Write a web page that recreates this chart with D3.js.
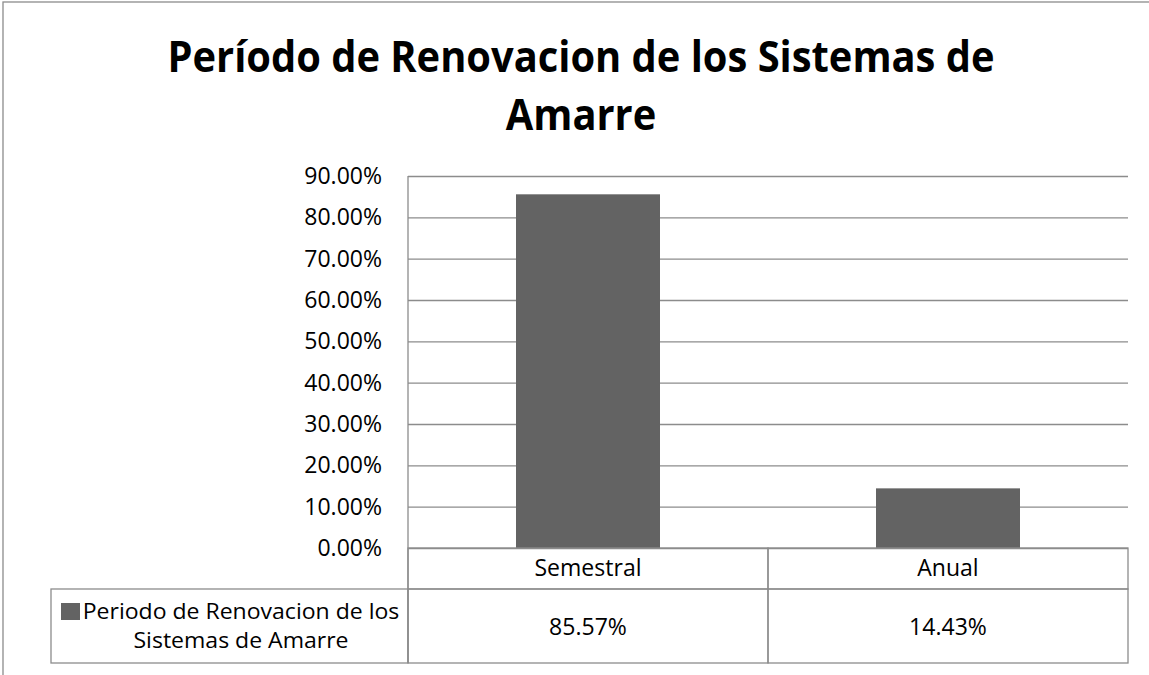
<!DOCTYPE html>
<meta charset="utf-8">
<style>
body { margin: 0; background: #fff; }
text { font-family: "Open Sans", "Noto Sans", sans-serif; fill: #000; }
.grid line { stroke: #8c8c8c; stroke-width: 1.3px; }
.cell { fill: none; stroke: #8c8c8c; stroke-width: 1.3px; }
</style>
<body>
<script src="https://cdnjs.cloudflare.com/ajax/libs/d3/7.8.5/d3.min.js"></script>
<script>
// data
var categories = ["Semestral", "Anual"];
var values = [85.57, 14.43];
var seriesName = ["Periodo de Renovacion de los", "Sistemas de Amarre"];
var ticks = [0, 10, 20, 30, 40, 50, 60, 70, 80, 90];
var titleLines = ["Período de Renovacion de los Sistemas de", "Amarre"];

var width = 1149, height = 675;
var plotLeft = 408, plotRight = 1128, plotTop = 176, plotBase = 548,
    rowCat = 589, rowVal = 663, legendLeft = 51;
var barColor = "#636363", lineColor = "#8c8c8c";

var svg = d3.select("body").append("svg")
    .attr("width", width)
    .attr("height", height);

// squeeze the glyphs a bit so the wide font looks like the narrow one in the picture
function squeeze(sel, k) {
  sel.each(function() {
    var w = this.getComputedTextLength();
    d3.select(this)
        .attr("textLength", w * k)
        .attr("lengthAdjust", "spacingAndGlyphs");
  });
}

// chart border (runs off the right and bottom of the picture)
svg.append("rect")
    .attr("x", 3).attr("y", 2)
    .attr("width", 1160).attr("height", 720)
    .attr("fill", "none")
    .attr("stroke", lineColor)
    .attr("stroke-width", 1.3);

// title
var title = svg.append("g");
titleLines.forEach(function(t, i) {
  title.append("text")
      .attr("x", 581)
      .attr("y", 72 + i * 58)
      .attr("text-anchor", "middle")
      .style("font-weight", "bold")
      .style("font-size", "43px")
      .text(t);
});
var kTitle = 827 / title.select("text").node().getComputedTextLength();
squeeze(title.selectAll("text"), kTitle);

var x = d3.scaleBand()
    .domain(categories)
    .range([plotLeft, plotRight])
    .paddingInner(0.6)
    .paddingOuter(0.3);

var y = d3.scaleLinear()
    .domain([0, 90])
    .range([plotBase, plotTop]);

var yAxis = d3.axisLeft(y)
    .tickValues(ticks)
    .tickSize(-(plotRight - plotLeft))
    .tickPadding(26)
    .tickFormat(function(d) { return d.toFixed(2) + "%"; });

var ga = svg.append("g")
    .attr("class", "grid")
    .attr("transform", "translate(" + plotLeft + ",0)")
    .call(yAxis);
ga.select(".domain").remove();
ga.selectAll("line").attr("stroke", lineColor);
ga.selectAll("text")
    .style("font-size", "23px")
    .style("font-family", "'Open Sans', sans-serif")
    .attr("fill", "#000");

// bars
svg.selectAll("rect.bar")
    .data(values)
  .enter().append("rect")
    .attr("class", "bar")
    .attr("x", function(d, i) { return x(categories[i]); })
    .attr("width", x.bandwidth())
    .attr("y", function(d) { return y(d); })
    .attr("height", function(d) { return plotBase - y(d); })
    .attr("fill", barColor);

// axis line + data table
svg.append("line")
    .attr("x1", plotLeft).attr("x2", plotLeft)
    .attr("y1", plotTop).attr("y2", rowVal)
    .attr("stroke", lineColor).attr("stroke-width", 1.3);

var step = x.step();
var labels = svg.append("g");
categories.forEach(function(c, i) {
  var x0 = plotLeft + i * step;
  svg.append("rect").attr("class", "cell")
      .attr("x", x0).attr("y", plotBase)
      .attr("width", step).attr("height", rowCat - plotBase);
  svg.append("rect").attr("class", "cell")
      .attr("x", x0).attr("y", rowCat)
      .attr("width", step).attr("height", rowVal - rowCat);
  labels.append("text")
      .attr("x", x0 + step / 2)
      .attr("y", 576)
      .attr("text-anchor", "middle")
      .style("font-size", "23px")
      .text(c);
  labels.append("text")
      .attr("x", x0 + step / 2)
      .attr("y", 635)
      .attr("text-anchor", "middle")
      .style("font-size", "23px")
      .text(values[i].toFixed(2) + "%");
});

// legend cell
svg.append("rect").attr("class", "cell")
    .attr("x", legendLeft).attr("y", rowCat)
    .attr("width", plotLeft - legendLeft).attr("height", rowVal - rowCat);

svg.append("rect")
    .attr("x", 61).attr("y", 603)
    .attr("width", 19).attr("height", 17)
    .attr("fill", barColor);

var legendText = svg.append("g");
seriesName.forEach(function(t, i) {
  legendText.append("text")
      .attr("x", 241)
      .attr("y", 619 + i * 29)
      .attr("text-anchor", "middle")
      .style("font-size", "22px")
      .text(t);
});

var kText = 107 / labels.select("text").node().getComputedTextLength();
squeeze(labels.selectAll("text"), kText);
squeeze(ga.selectAll("text"), kText);
squeeze(legendText.selectAll("text"), kText * 23 / 22);
</script>
